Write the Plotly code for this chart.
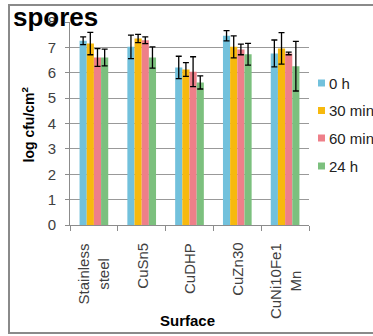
import plotly.graph_objects as go

# Surfaces tested and spore counts (log cfu/cm2) at each contact time
surfaces = ["Stainless steel", "CuSn5", "CuDHP", "CuZn30", "CuNi10Fe1Mn"]
surface_labels = ["Stainless<br>steel", "CuSn5", "CuDHP", "CuZn30", "CuNi10Fe1<br>Mn"]
series_names = ["0 h", "30 min", "60 min", "24 h"]

vals_0h = [7.26, 7.02, 6.21, 7.46, 6.76]
err_0h = [0.15, 0.46, 0.44, 0.20, 0.53]
vals_30min = [7.15, 7.35, 6.13, 7.02, 6.96]
err_30min = [0.44, 0.16, 0.27, 0.43, 0.62]
vals_60min = [6.60, 7.28, 6.04, 6.92, 6.76]
err_60min = [0.35, 0.13, 0.59, 0.21, 0.05]
vals_24h = [6.60, 6.60, 5.62, 6.73, 6.26]
err_24h = [0.33, 0.42, 0.26, 0.43, 0.98]

colors = ["#72C1DC", "#F7B90E", "#EE7F89", "#7CC07E"]

W, H = 373, 336
L, R, T, B = 70, 64, 22, 111
PW, PH = W - L - R, H - T - B


def px(x):
    return (x - L) / PW


def py(y):
    return (H - B - y) / PH


FONT = "Liberation Sans, Arial, sans-serif"

fig = go.Figure()
for name, v, e, c in zip(series_names,
                         [vals_0h, vals_30min, vals_60min, vals_24h],
                         [err_0h, err_30min, err_60min, err_24h],
                         colors):
    fig.add_trace(go.Bar(
        x=surfaces, y=v, name=name, marker=dict(color=c, line=dict(width=0)),
        error_y=dict(type="data", array=e, color="black", thickness=1.3, width=3),
        showlegend=False,
    ))

annotations = []
shapes = []

# Category labels, rotated
for s, lab in zip(surfaces, surface_labels):
    annotations.append(dict(
        x=s, xref="x", y=py(241), yref="paper", text=lab, showarrow=False,
        textangle=-90, xanchor="center", yanchor="top", align="center",
        font=dict(family=FONT, size=15, color="#404040"),
    ))

# Legend
leg_y = [83, 110.5, 138, 166]
for name, c, yc in zip(series_names, colors, leg_y):
    shapes.append(dict(type="rect", xref="paper", yref="paper",
                       x0=px(318), x1=px(325), y0=py(yc + 3.5), y1=py(yc - 3.5),
                       fillcolor=c, line=dict(width=0)))
    annotations.append(dict(
        x=px(326.5), xref="paper", y=py(yc), yref="paper", text=name,
        showarrow=False, xanchor="left", yanchor="middle",
        font=dict(family=FONT, size=15, color="#222222"),
    ))

# Titles
annotations.append(dict(
    x=px(11), xref="paper", y=py(17), yref="paper", text="<b>spores</b>",
    showarrow=False, xanchor="left", yanchor="middle",
    font=dict(family=FONT, size=26, color="black"),
))
annotations.append(dict(
    x=px(28), xref="paper", y=py(124.5), yref="paper",
    text="<b>log cfu/cm<sup>2</sup></b>", showarrow=False, textangle=-90,
    xanchor="center", yanchor="middle",
    font=dict(family=FONT, size=14, color="black"),
))
annotations.append(dict(
    x=px(187), xref="paper", y=py(320), yref="paper", text="<b>Surface</b>",
    showarrow=False, xanchor="center", yanchor="middle",
    font=dict(family=FONT, size=15, color="black"),
))

# Outer frame
shapes.append(dict(type="rect", xref="paper", yref="paper",
                   x0=px(9), x1=px(385), y0=py(333), y1=py(5),
                   line=dict(color="#8a8a8a", width=2), layer="below"))

fig.update_layout(
    width=W, height=H,
    margin=dict(l=L, r=R, t=T, b=B),
    paper_bgcolor="white", plot_bgcolor="white",
    barmode="group", bargap=0.4, bargroupgap=0,
    showlegend=False,
    annotations=annotations, shapes=shapes,
    xaxis=dict(
        type="category", tickson="boundaries", ticks="outside", ticklen=5,
        tickcolor="#8c8c8c", showline=True, linecolor="#8c8c8c", linewidth=1,
        showgrid=False, showticklabels=False, fixedrange=True,
    ),
    yaxis=dict(
        range=[0, 8], dtick=1, ticks="outside", ticklen=4, tickcolor="#8c8c8c",
        showline=True, linecolor="#8c8c8c", linewidth=1,
        showgrid=True, gridcolor="#999999", gridwidth=1, zeroline=False,
        tickfont=dict(family=FONT, size=15, color="#404040"),
        ticklabelstandoff=6,
    ),
)

fig.write_html("out.html")
